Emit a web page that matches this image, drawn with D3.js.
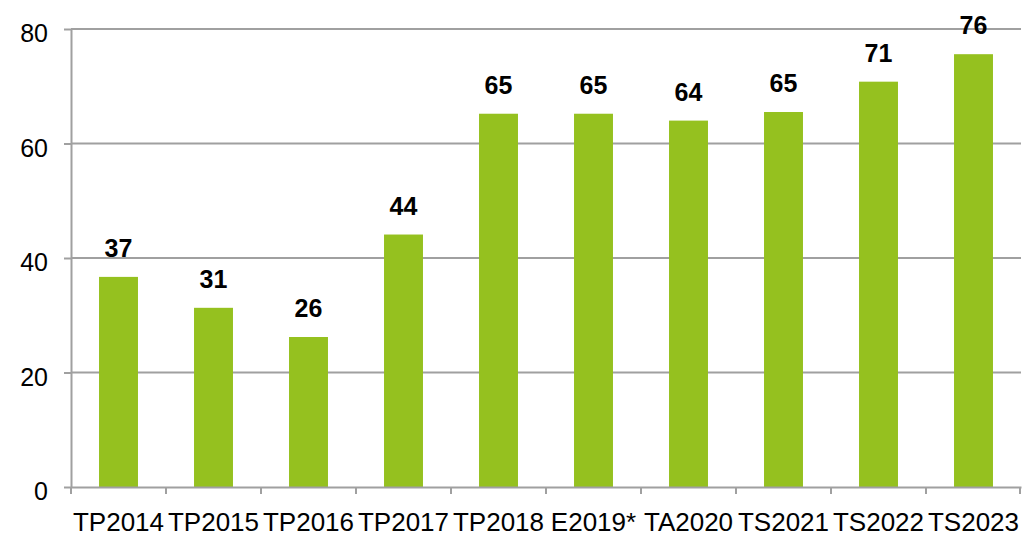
<!DOCTYPE html>
<html><head><meta charset="utf-8">
<script src="https://cdn.jsdelivr.net/npm/d3@7"></script>
<style>body{margin:0;background:#fff}svg{display:block}</style>
</head><body>
<svg id="c" width="1022" height="536"></svg>
<script>
const categories = ["TP2014","TP2015","TP2016","TP2017","TP2018","E2019*","TA2020","TS2021","TS2022","TS2023"];
const values = [36.7, 31.3, 26.2, 44.1, 65.2, 65.2, 64.0, 65.5, 70.8, 75.6];
const labels = ["37","31","26","44","65","65","64","65","71","76"];
const yTicks = [0, 20, 40, 60, 80];

(function () {
const svg = d3.select("#c");
const mL = 71, mR = 1021, mT = 29, mB = 487;
const x = d3.scaleBand().domain(categories).range([mL, mR]).paddingInner(0.59).paddingOuter(0.295);
const xb = d3.scaleBand().domain(categories).range([mL, mR]);
const y = d3.scaleLinear().domain([0, 80]).range([mB, mT]);
const grey = "#a0a0a0";
const font = "Liberation Sans, Arial, sans-serif";

// gridlines
svg.append("g").selectAll("line").data(yTicks.filter(d => d > 0)).join("line")
  .attr("x1", mL).attr("x2", mR).attr("y1", d => y(d)).attr("y2", d => y(d))
  .attr("stroke", grey).attr("stroke-width", 2);

// bars
svg.append("g").selectAll("rect").data(values).join("rect")
  .attr("x", (d, i) => x(categories[i])).attr("width", x.bandwidth())
  .attr("y", d => y(d)).attr("height", d => y(0) - y(d))
  .attr("fill", "#95c11f");

// value labels
svg.append("g").selectAll("text").data(values).join("text")
  .attr("x", (d, i) => x(categories[i]) + x.bandwidth() / 2)
  .attr("y", d => y(d) - 20)
  .attr("text-anchor", "middle").attr("font-family", font).attr("font-weight", "bold")
  .attr("font-size", 25).attr("fill", "#000")
  .text((d, i) => labels[i]);

// y axis
const ya = svg.append("g").attr("transform", `translate(${mL},0)`)
  .call(d3.axisLeft(y).tickValues(yTicks).tickSize(7).tickPadding(16).tickSizeOuter(0));
ya.select(".domain").attr("stroke", grey).attr("stroke-width", 2);
ya.selectAll(".tick line").attr("stroke", grey).attr("stroke-width", 2);
ya.selectAll(".tick text").attr("font-family", font).attr("font-size", 25).attr("fill", "#000").attr("dy", "0.5em");

// x axis
const xa = svg.append("g").attr("transform", `translate(0,${mB})`)
  .call(d3.axisBottom(xb).tickSize(0).tickPadding(0).tickSizeOuter(0));
xa.select(".domain").attr("stroke", grey).attr("stroke-width", 2);
xa.selectAll(".tick text").attr("font-family", font).attr("font-size", 26).attr("fill", "#000").attr("dy", 0).attr("y", 44);
xa.selectAll(".tick line").remove();
xa.append("g").selectAll("line").data(categories).join("line")
  .attr("x1", d => xb(d)).attr("x2", d => xb(d)).attr("y1", 0).attr("y2", 7)
  .attr("stroke", grey).attr("stroke-width", 2);
xa.append("line").attr("x1", mR - 1).attr("x2", mR - 1).attr("y1", 0).attr("y2", 7)
  .attr("stroke", grey).attr("stroke-width", 2);
})();
</script>
</body></html>
